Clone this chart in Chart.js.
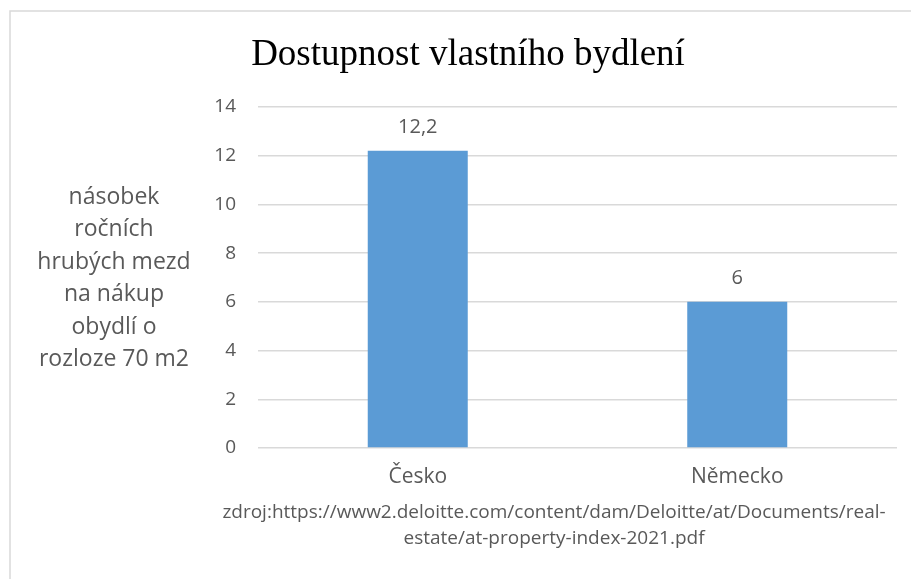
<!DOCTYPE html>
<html>
<head>
<meta charset="utf-8">
<script src="https://cdn.jsdelivr.net/npm/chart.js@4"></script>
<style>
  body { margin: 0; background: #fff; }
  #wrap { width: 911px; height: 579px; }
</style>
</head>
<body>
<div id="wrap"><canvas id="myChart" width="911" height="579"></canvas></div>
<script>
var xValues = ["Česko", "Německo"];
var yValues = [12.2, 6];
var valueLabels = ["12,2", "6"];
var chartTitle = "Dostupnost vlastního bydlení";
var yTitle = ["násobek", "ročních", "hrubých mezd", "na nákup", "obydlí o", "rozloze 70 m2"];
var sourceLines = ["zdroj:https://www2.deloitte.com/content/dam/Deloitte/at/Documents/real-", "estate/at-property-index-2021.pdf"];

var textColor = "#595959";
var sans = "'Open Sans', Lato, sans-serif";

// title, axis title, source note, value labels and frame
var extras = {
  id: "extras",
  beforeDraw: function(chart) {
    var ctx = chart.ctx;
    ctx.save();
    ctx.fillStyle = "#fff";
    ctx.fillRect(0, 0, chart.width, chart.height);
    ctx.strokeStyle = "#d9d9d9";
    ctx.lineWidth = 1.5;
    ctx.beginPath();
    ctx.moveTo(10, chart.height);
    ctx.lineTo(10, 11);
    ctx.lineTo(chart.width, 11);
    ctx.stroke();
    ctx.restore();
  },
  afterDraw: function(chart) {
    var ctx = chart.ctx;
    ctx.save();
    ctx.textAlign = "center";
    ctx.textBaseline = "middle";

    ctx.fillStyle = "#000";
    ctx.font = "37px 'Liberation Serif', serif";
    ctx.fillText(chartTitle, 468, 55);

    ctx.fillStyle = textColor;
    ctx.font = "23px " + sans;
    yTitle.forEach(function(line, i) {
      ctx.fillText(line, 114, 197 + i * 32.5);
    });

    ctx.font = "19px " + sans;
    sourceLines.forEach(function(line, i) {
      ctx.fillText(line, 554, 513 + i * 26);
    });

    ctx.font = "20px " + sans;
    chart.getDatasetMeta(0).data.forEach(function(bar, i) {
      ctx.fillText(valueLabels[i], bar.x, bar.y - 24);
    });
    ctx.restore();
  }
};

new Chart("myChart", {
  type: "bar",
  data: {
    labels: xValues,
    datasets: [{
      backgroundColor: "#5b9bd5",
      data: yValues,
      barPercentage: 0.626,
      categoryPercentage: 0.5
    }]
  },
  options: {
    responsive: false,
    animation: false,
    layout: { padding: { top: 107, right: 14, bottom: 0, left: 0 } },
    plugins: {
      legend: { display: false },
      tooltip: { enabled: false }
    },
    scales: {
      x: {
        grid: { display: false },
        border: { display: false },
        ticks: { color: textColor, font: { family: sans, size: 21 }, padding: 8 },
        afterFit: function(scale) { scale.height = 131; }
      },
      y: {
        min: 0,
        max: 14,
        ticks: { stepSize: 2, color: textColor, font: { family: sans, size: 19 }, padding: 22 },
        grid: { color: "#d9d9d9", lineWidth: 1.5, drawTicks: false },
        border: { display: false },
        afterFit: function(scale) { scale.width = 258; }
      }
    }
  },
  plugins: [extras]
});
</script>
</body>
</html>
